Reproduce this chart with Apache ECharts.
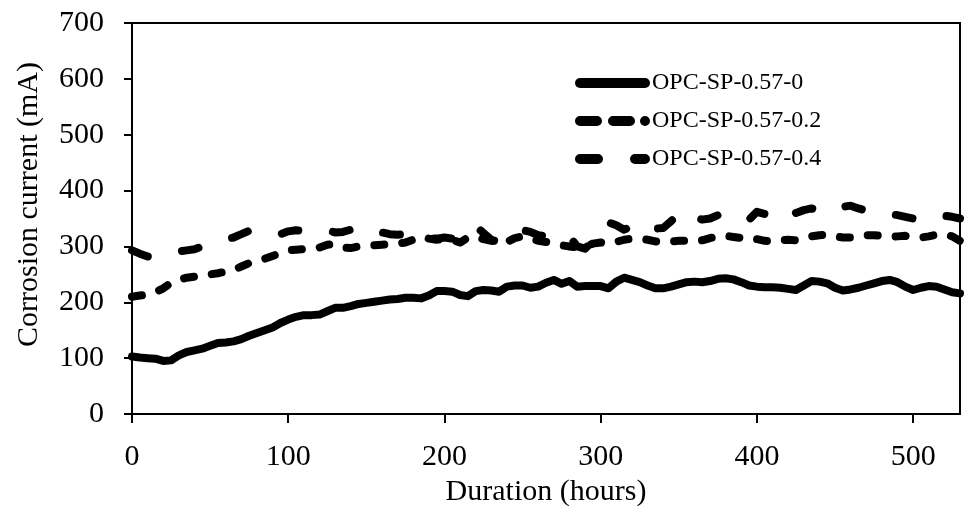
<!DOCTYPE html>
<html>
<head>
<meta charset="utf-8">
<script src="https://cdn.jsdelivr.net/npm/echarts@6/dist/echarts.min.js"></script>
<style>
  html, body { margin: 0; padding: 0; background: #fff; }
  #chart { width: 964px; height: 523px; }
</style>
</head>
<body>
<div id="chart"></div>
<script>
// Duration (hours), sampled every 5 h
const hours = [];
for (let h = 0; h <= 530; h += 5) hours.push(h);

// Corrosion current (mA) per mix
const opc0 = [
  103, 101, 100, 99, 95, 96, 105, 111, 114, 117,
  122, 127, 128, 130, 134, 140, 145, 150, 155, 163,
  169, 174, 177, 177, 178, 184, 190, 190, 193, 197,
  199, 201, 203, 205, 206, 208, 208, 207, 212, 220,
  220, 219, 213, 211, 220, 222, 221, 219, 228, 230,
  230, 226, 228, 235, 240, 233, 238, 228, 229, 229,
  229, 225, 237, 244, 240, 236, 230, 225, 225, 228,
  232, 236, 237, 236, 238, 242, 243, 241, 236, 230,
  228, 227, 227, 226, 224, 222, 230, 238, 237, 234,
  226, 221, 223, 226, 230, 234, 238, 240, 236, 228,
  222, 226, 229, 228, 223, 218, 216
];
const opc02 = [
  210, 212, 214, 218, 225, 235, 240, 244, 246, 248,
  250, 252, 255, 258, 264, 270, 274, 278, 283, 288,
  293, 294, 295, 296, 298, 303, 304, 298, 297, 300,
  301, 302, 303, 304, 305, 307, 312, 318, 314, 312,
  313, 312, 307, 316, 317, 313, 310, 309, 308, 315,
  318, 315, 310, 308, 305, 302, 300, 298, 300, 305,
  307, 305, 308, 312, 314, 314, 312, 309, 308, 309,
  310, 310, 309, 311, 315, 318, 319, 317, 315, 316,
  313, 310, 309, 311, 312, 311, 313, 318, 320, 321,
  318, 316, 316, 318, 320, 320, 319, 317, 318, 319,
  317, 316, 318, 321, 322, 318, 310
];
const opc04 = [
  293, 287, 282, 280, 283, 287, 291, 293, 295, 300,
  305, 309, 313, 316, 322, 328, 330, 327, 322, 322,
  327, 329, 328, 326, 327, 329, 325, 326, 330, 333,
  335, 332, 325, 322, 321, 322, 322, 318, 315, 314,
  316, 314, 320, 334, 336, 324, 312, 308, 315, 325,
  329, 326, 320, 318, 322, 323, 318, 300, 296, 310,
  330, 343, 338, 330, 336, 344, 340, 332, 333, 345,
  360, 363, 352, 348, 350, 356, 355, 350, 344, 348,
  362, 358, 348, 347, 353, 360, 365, 368, 364, 360,
  365, 371, 373, 368, 364, 360, 362, 358, 356, 353,
  350, 352, 357, 359, 355, 353, 350
];

const seriesNames = ['OPC-SP-0.57-0', 'OPC-SP-0.57-0.2', 'OPC-SP-0.57-0.4'];
const xTicks = [0, 100, 200, 300, 400, 500];
const yTicks = [0, 100, 200, 300, 400, 500, 600, 700];

const FONT = '"Liberation Serif", "Times New Roman", serif';

// Legend keys: thick rounded strokes in a 75 x 10 box
const ICON_SOLID = 'path://M5,0 H70 A5,5 0 0 1 70,10 H5 A5,5 0 0 1 5,0 Z';
const ICON_DASH_SHORT = 'path://M5,0 H22 A5,5 0 0 1 22,10 H5 A5,5 0 0 1 5,0 Z ' +
  'M38,0 H55 A5,5 0 0 1 55,10 H38 A5,5 0 0 1 38,0 Z ' +
  'M70,0 A5,5 0 0 1 70,10 A5,5 0 0 1 70,0 Z';
const ICON_DASH_LONG = 'path://M5,0 H23 A5,5 0 0 1 23,10 H5 A5,5 0 0 1 5,0 Z ' +
  'M60,0 H70 A5,5 0 0 1 70,10 H60 A5,5 0 0 1 60,0 Z';

function pairs(ys) { return hours.map((h, i) => [h, ys[i]]); }

function lineSeries(name, ys, dash) {
  return {
    name: name,
    type: 'line',
    data: pairs(ys),
    symbol: 'none',
    smooth: false,
    lineStyle: { color: '#000', width: 8, type: dash, cap: 'round', join: 'round' },
    itemStyle: { color: '#000' }
  };
}

const chart = echarts.init(document.getElementById('chart'), null, { renderer: 'canvas' });
chart.setOption({
  animation: false,
  backgroundColor: '#fff',
  textStyle: { fontFamily: FONT, color: '#000' },
  grid: {
    left: 132, right: 4, top: 23, bottom: 109,
    show: true, borderColor: '#000', borderWidth: 2, backgroundColor: 'transparent'
  },
  legend: {
    orient: 'vertical',
    left: 575, top: 71, padding: 0,
    itemWidth: 75, itemHeight: 10, itemGap: 14,
    itemStyle: { color: '#000', borderWidth: 0 },
    data: [
      { name: seriesNames[0], icon: ICON_SOLID },
      { name: seriesNames[1], icon: ICON_DASH_SHORT },
      { name: seriesNames[2], icon: ICON_DASH_LONG }
    ],
    textStyle: { fontFamily: FONT, fontSize: 24, color: '#000', padding: [0, 0, 0, -3] }
  },
  xAxis: {
    type: 'value',
    min: 0, max: 530, interval: 100,
    name: 'Duration (hours)',
    nameLocation: 'middle', nameGap: 62,
    nameTextStyle: { fontFamily: FONT, fontSize: 30, color: '#000' },
    axisLine: { show: true, lineStyle: { color: '#000', width: 2 } },
    axisTick: { show: true, inside: false, length: 9, lineStyle: { color: '#000', width: 2 } },
    axisLabel: {
      showMaxLabel: false, margin: 28,
      fontFamily: FONT, fontSize: 30, color: '#000',
      formatter: v => (xTicks.indexOf(v) >= 0 ? String(v) : '')
    },
    splitLine: { show: false }
  },
  yAxis: {
    type: 'value',
    min: 0, max: 700, interval: 100,
    name: 'Corrosion current (mA)',
    nameLocation: 'middle', nameGap: 88,
    nameTextStyle: { fontFamily: FONT, fontSize: 30, color: '#000', padding: [0, 0, 0, 28] },
    axisLine: { show: true, lineStyle: { color: '#000', width: 2 } },
    axisTick: { show: true, inside: false, length: 8, lineStyle: { color: '#000', width: 2 } },
    axisLabel: {
      margin: 28, fontFamily: FONT, fontSize: 30, color: '#000',
      formatter: v => (yTicks.indexOf(v) >= 0 ? String(v) : '')
    },
    splitLine: { show: false }
  },
  series: [
    lineSeries(seriesNames[0], opc0, 'solid'),
    lineSeries(seriesNames[1], opc02, [10, 18]),
    lineSeries(seriesNames[2], opc04, [17, 35])
  ]
});
</script>
</body>
</html>
